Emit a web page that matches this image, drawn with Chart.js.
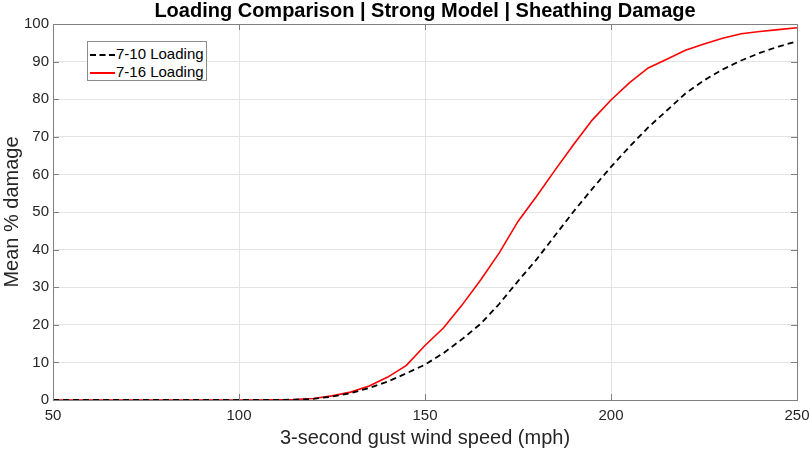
<!DOCTYPE html>
<html lang="en">

<head>
    <meta charset="UTF-8">
    <title>Loading Comparison</title>
    <script src="https://cdn.jsdelivr.net/npm/chart.js"></script>
    <style>
        body { margin: 0; background: #fff; }
        #wrap { position: relative; width: 809px; height: 451px; }
        #legend {
            position: absolute; left: 87px; top: 41px; width: 118px; height: 38px;
            border: 1px solid #8c8c8c; background: #fff;
            font-family: 'Liberation Sans', Arial, sans-serif; font-size: 15px; color: #000;
        }
        #legend .row { position: absolute; left: 0; height: 18px; line-height: 18px; }
        #legend .swatch { position: absolute; left: 2px; top: 9px; width: 25px; height: 0; }
        #legend .txt { position: absolute; left: 28px; top: 0; white-space: nowrap; }
    </style>
</head>

<body>
    <div id="wrap">
        <canvas id="lossChart" width="809" height="451"></canvas>
        <div id="legend"></div>
    </div>

    <script>
        // wind speed (mph)
        const speeds = [50, 55, 60, 65, 70, 75, 80, 85, 90, 95, 100, 105, 110, 115, 120, 125, 130, 135, 140, 145,
            150, 155, 160, 165, 170, 175, 180, 185, 190, 195, 200, 205, 210, 215, 220, 225, 230, 235, 240, 245, 250];

        // mean % damage
        const loading710 = [0, 0, 0, 0, 0, 0, 0, 0, 0, 0, 0, 0, 0, 0.1, 0.3, 0.9, 1.8, 3.2, 4.9, 7.1,
            9.4, 12.5, 16.2, 20.3, 25.6, 31.6, 37.4, 43.8, 50.2, 56.2, 62.0, 67.4, 72.5, 77.0, 81.5, 85.0, 87.9, 90.3, 92.3, 94.0, 95.4];
        const loading716 = [0, 0, 0, 0, 0, 0, 0, 0, 0, 0, 0, 0, 0.05, 0.15, 0.4, 1.1, 2.1, 3.7, 6.1, 9.2,
            14.5, 19.2, 25.3, 32.0, 39.2, 47.5, 54.2, 61.2, 68.0, 74.5, 79.8, 84.4, 88.3, 90.6, 93.0, 94.7, 96.2, 97.4, 98.0, 98.5, 99.0];

        const seriesNames = ['7-10 Loading', '7-16 Loading'];
        const xTicks = [50, 100, 150, 200, 250];
        const yTicks = [0, 10, 20, 30, 40, 50, 60, 70, 80, 90, 100];

        const FONT = "'Liberation Sans', Arial, sans-serif";
        const AXIS = '#808080';

        const toPoints = vals => vals.map((v, i) => ({ x: speeds[i], y: v }));

        // matlab style: box round the axes and ticks pointing inward on all four sides
        const boxTicks = {
            id: 'boxTicks',
            afterDraw(chart) {
                const { ctx, chartArea: a, scales } = chart;
                const len = 6;
                ctx.save();
                ctx.strokeStyle = AXIS;
                ctx.lineWidth = 1;
                ctx.beginPath();
                xTicks.forEach(t => {
                    const px = Math.round(scales.x.getPixelForValue(t)) + 0.5;
                    ctx.moveTo(px, a.bottom); ctx.lineTo(px, a.bottom - len);
                    ctx.moveTo(px, a.top); ctx.lineTo(px, a.top + len);
                });
                yTicks.forEach(t => {
                    const py = Math.round(scales.y.getPixelForValue(t)) + 0.5;
                    ctx.moveTo(a.left, py); ctx.lineTo(a.left + len, py);
                    ctx.moveTo(a.right, py); ctx.lineTo(a.right - len, py);
                });
                ctx.stroke();
                ctx.strokeRect(Math.round(a.left) + 0.5, Math.round(a.top) + 0.5,
                    Math.round(a.right - a.left), Math.round(a.bottom - a.top));
                ctx.restore();
            }
        };

        const ctx = document.getElementById('lossChart').getContext('2d');
        const chart = new Chart(ctx, {
            type: 'line',
            data: {
                datasets: [{
                    label: seriesNames[0],
                    data: toPoints(loading710),
                    borderColor: '#000000',
                    borderWidth: 1.8,
                    borderDash: [6, 4],
                    pointRadius: 0,
                    tension: 0
                }, {
                    label: seriesNames[1],
                    data: toPoints(loading716),
                    borderColor: '#ff0000',
                    borderWidth: 1.6,
                    pointRadius: 0,
                    tension: 0
                }]
            },
            plugins: [boxTicks],
            options: {
                responsive: false,
                animation: false,
                devicePixelRatio: 1,
                layout: { padding: { left: 0, right: 12, top: 0, bottom: 0 } },
                plugins: {
                    legend: { display: false },
                    tooltip: { enabled: false },
                    title: {
                        display: true,
                        fullSize: false,
                        text: 'Loading Comparison | Strong Model | Sheathing Damage',
                        color: '#000',
                        font: { family: FONT, size: 20, weight: 'bold', lineHeight: 1.1 },
                        padding: { top: 0, bottom: 2 }
                    }
                },
                scales: {
                    x: {
                        type: 'linear',
                        min: 50,
                        max: 250,
                        afterBuildTicks: s => { s.ticks = xTicks.map(v => ({ value: v })); },
                        afterFit: s => { s.height = 51; s.paddingLeft = 0; s.paddingRight = 0; },
                        ticks: { color: '#262626', font: { family: FONT, size: 15 }, padding: 7, maxRotation: 0 },
                        grid: { color: '#e4e4e4', drawTicks: false },
                        border: { color: AXIS },
                        title: {
                            display: true,
                            text: '3-second gust wind speed (mph)',
                            color: '#262626',
                            font: { family: FONT, size: 20 },
                            padding: { top: 0, bottom: 1 }
                        }
                    },
                    y: {
                        min: 0,
                        max: 100,
                        afterBuildTicks: s => { s.ticks = yTicks.map(v => ({ value: v })); },
                        afterFit: s => { s.width = 53; s.paddingTop = 0; s.paddingBottom = 0; },
                        ticks: { color: '#262626', font: { family: FONT, size: 15 }, padding: 4 },
                        grid: { color: '#e4e4e4', drawTicks: false },
                        border: { color: AXIS },
                        title: {
                            display: true,
                            text: 'Mean % damage',
                            color: '#262626',
                            font: { family: FONT, size: 20 },
                            padding: { top: 0, bottom: 0 }
                        }
                    }
                }
            }
        });

        // legend box drawn from the chart's own datasets
        const legend = document.getElementById('legend');
        chart.data.datasets.forEach((ds, i) => {
            const row = document.createElement('div');
            row.className = 'row';
            row.style.top = (3 + i * 18) + 'px';
            const dash = ds.borderDash ? 'dashed' : 'solid';
            row.innerHTML = `
                <div class="swatch" style="border-top: 2px ${dash} ${ds.borderColor};"></div>
                <div class="txt">${ds.label}</div>
            `;
            legend.appendChild(row);
        });
    </script>
</body>

</html>
